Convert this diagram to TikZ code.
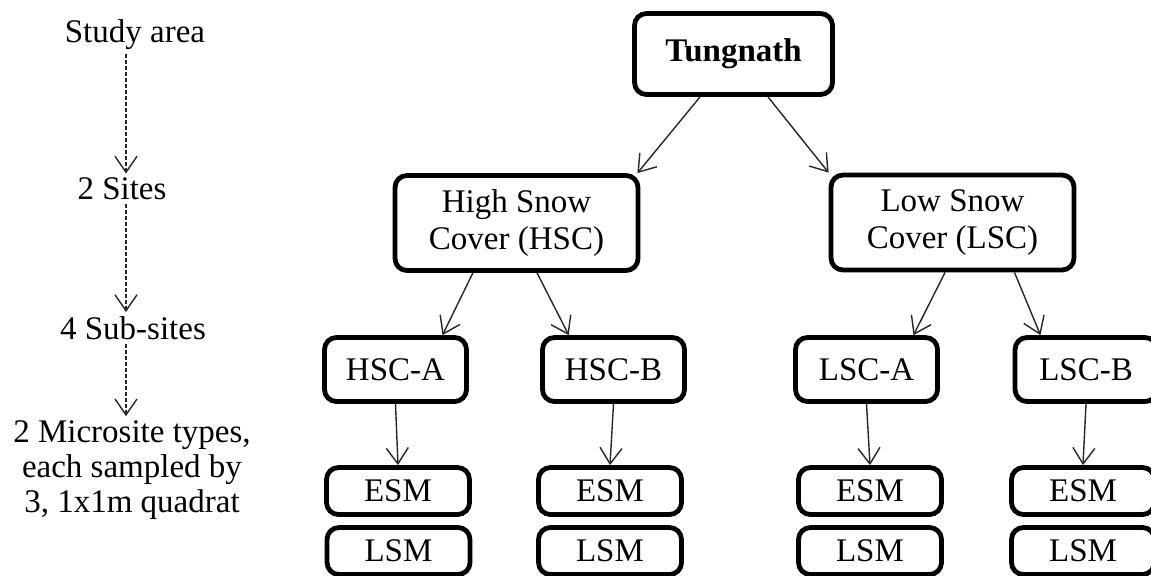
\documentclass[tikz,border=0pt]{standalone}
\usepackage{fontspec}
\setmainfont{Liberation Serif}
\usetikzlibrary{positioning, arrows.meta, calc}

\begin{document}
\begin{tikzpicture}[x=0.5pt, y=-0.5pt,
    font=\fontsize{16.5}{18.5}\selectfont,
    box/.style={draw, line width=2.4pt, rounded corners=6pt, inner sep=0pt, align=center},
    mainbox/.style={box, minimum width=99pt, minimum height=40.5pt, font=\fontsize{16.5}{18.5}\selectfont\bfseries},
    sitebox/.style={box, minimum width=121.5pt, minimum height=47.5pt},
    subbox/.style={box, minimum width=71pt, minimum height=32pt},
    typebox/.style={box, minimum width=71.5pt, minimum height=23.5pt},
    lvl/.style={inner sep=2pt, align=center, font=\fontsize{16.5}{17.5}\selectfont},
    link/.style={draw=black!85, line width=0.7pt, -{Straight Barb[length=8pt, width=11pt]}},
    levelarrow/.style={link, dash pattern=on 2pt off 1pt}]
    \path[use as bounding box, clip] (0,0) rectangle (1151,575);

    % === NIVEAUX (gauche) ===
    \coordinate (axis) at (126,0);
    \node[lvl] (study) at (135,35) {Study area};
    \node[lvl] (sites) at (122,189) {2 Sites};
    \node[lvl] (subsites) at (133,328) {4 Sub-sites};
    \node[lvl] (micro) at (132,470) {2 Microsite types,\\each sampled by\\3, 1x1m quadrat};
    \draw[levelarrow] (study.south -| axis) -- (sites.north -| axis);
    \draw[levelarrow] (sites.south -| axis) -- (subsites.north -| axis);
    \draw[levelarrow] (subsites.south -| axis) -- (micro.north -| axis);

    % === ZONE D'ETUDE ===
    \node[mainbox] (tung) at (733.5,54) {Tungnath};

    % Sites
    \node[sitebox] (hsc) at (516.5,223) {High Snow\\Cover (HSC)};
    \node[sitebox] (lsc) at (952.5,222.5) {Low Snow\\Cover (LSC)};

    % Sous-sites
    \node[subbox] (hsca) at (395.5,369.5) {HSC-A};
    \node[subbox] (hscb) at (613.5,369.5) {HSC-B};
    \node[subbox] (lsca) at (866.5,369.5) {LSC-A};
    \node[subbox] (lscb) at (1086,369.5) {LSC-B};

    % Microsites
    \node[typebox] (esma) at (398,491) {ESM};
    \node[typebox] (lsma) at (398.5,551) {LSM};
    \node[typebox] (esmb) at (610,491) {ESM};
    \node[typebox] (lsmb) at (610,551) {LSM};
    \node[typebox] (esmc) at (870,491) {ESM};
    \node[typebox] (lsmc) at (870,551) {LSM};
    \node[typebox] (esmd) at (1083,491) {ESM};
    \node[typebox] (lsmd) at (1083,551) {LSM};

    % Fleches
    \draw[link] ($(tung.south west)!0.335!(tung.south east)$) -- ([xshift=-1.5pt]hsc.north east);
    \draw[link] ($(tung.south west)!0.67!(tung.south east)$) -- (lsc.north west);
    \draw[link] ($(hsc.south west)!0.324!(hsc.south east)$) -- ($(hsca.north west)!0.82!(hsca.north east)$);
    \draw[link] ($(hsc.south west)!0.583!(hsc.south east)$) -- ($(hscb.north west)!0.195!(hscb.north east)$);
    \draw[link] ($(lsc.south west)!0.47!(lsc.south east)$) -- ($(lsca.north west)!0.82!(lsca.north east)$);
    \draw[link] ($(lsc.south west)!0.75!(lsc.south east)$) -- ($(lscb.north west)!0.19!(lscb.north east)$);
    \draw[link] (hsca.south) -- (esma.north);
    \draw[link] (hscb.south) -- (esmb.north);
    \draw[link] (lsca.south) -- (esmc.north);
    \draw[link] (lscb.south) -- (esmd.north);
\end{tikzpicture}
\end{document}
